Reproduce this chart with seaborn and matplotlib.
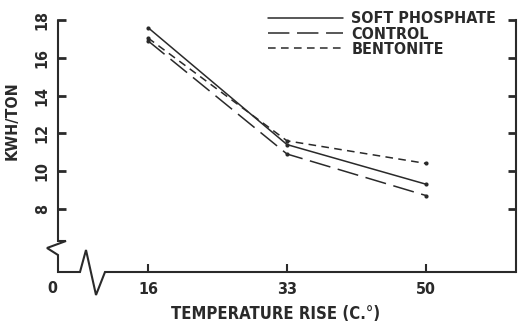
import matplotlib
matplotlib.use("Agg")
import matplotlib.pyplot as plt
import seaborn as sns
import pandas as pd
from matplotlib.lines import Line2D

sns.set_theme(style="white")
plt.rcParams['font.family'] = ['DejaVu Sans']
plt.rcParams['font.stretch'] = 'condensed'
plt.rcParams['font.weight'] = 'bold'

temps = [16, 33, 50]
soft_phosphate = [17.6, 11.4, 9.3]
control = [16.9, 10.9, 8.7]
bentonite = [17.05, 11.6, 10.4]
series_names = ["SOFT PHOSPHATE", "CONTROL", "BENTONITE"]
yticks = [8, 10, 12, 14, 16, 18]
xticks = [16, 33, 50]

INK = '#2a2a2a'
W, H = 518, 327
fig = plt.figure(figsize=(W / 100, H / 100), dpi=100)
L, R, T, B = 58, 516, 20, 272
ax = fig.add_axes([L / W, 1 - B / H, (R - L) / W, (B - T) / H])

lw = 1.1
styles = ['-', (0, (14, 5)), (0, (5, 3.5))]
for vals, ls, name in zip([soft_phosphate, control, bentonite], styles, series_names):
    df = pd.DataFrame({"x": temps, "y": vals})
    sns.lineplot(data=df, x="x", y="y", ax=ax, color=INK, linewidth=lw,
                 linestyle=ls, marker='o', markersize=3, markeredgewidth=0,
                 label=name, legend=False)

ax.set_xlim(5, 61)
ax.set_ylim(4.65, 18)

for s in ['left', 'bottom', 'top']:
    ax.spines[s].set_visible(False)
ax.spines['right'].set_color(INK)
ax.spines['right'].set_linewidth(1.5)

# broken axes drawn as a polyline (pixel positions -> axes fraction)
pts = [(58, 20), (58, 241), (66, 241), (47, 248), (58, 255), (58, 272), (80, 272),
       (86, 250), (96, 295), (105, 272), (516, 272)]
xs = [(px - L) / (R - L) for px, py in pts]
ys = [(B - py) / (B - T) for px, py in pts]
ax.add_line(Line2D(xs, ys, transform=ax.transAxes, color=INK, lw=1.5,
                   clip_on=False, solid_joinstyle='miter'))

ax.set_yticks(yticks)
ax.set_yticklabels([str(v) for v in yticks], rotation=90, va='center',
                   fontsize=11.5, fontweight='bold', color=INK)
ax.set_xticks(xticks)
ax.set_xticklabels([str(v) for v in xticks], fontsize=11.5, fontweight='bold',
                   color=INK)
ax.tick_params(axis='y', direction='in', length=6, width=2, left=True, right=True,
               color=INK, pad=6)
ax.tick_params(axis='x', direction='in', length=6, width=1.5, bottom=True,
               color=INK, pad=7)

ax.text(-0.013, -0.035, "0", transform=ax.transAxes, ha='center', va='top',
        fontsize=11.5, fontweight='bold', color=INK)

ax.set_ylabel("KWH/TON", fontsize=11.5, fontweight='bold', color=INK)
ax.set_xlabel("TEMPERATURE RISE (C.°)", fontsize=12, fontweight='bold', color=INK)
ax.yaxis.set_label_coords(-0.083, 0.6)
ax.xaxis.set_label_coords(0.475, -0.13)

leg = ax.legend(loc='upper left', bbox_to_anchor=((262 - L) / (R - L), 1.06),
                frameon=False, fontsize=11.5, handlelength=4.7, handletextpad=0.5,
                labelspacing=0.02, borderaxespad=0)
for t in leg.get_texts():
    t.set_fontweight('bold')
    t.set_color(INK)
for h in leg.get_lines():
    h.set_marker('')

ax.grid(False)
fig.savefig("out.png", dpi=100, facecolor='white')
